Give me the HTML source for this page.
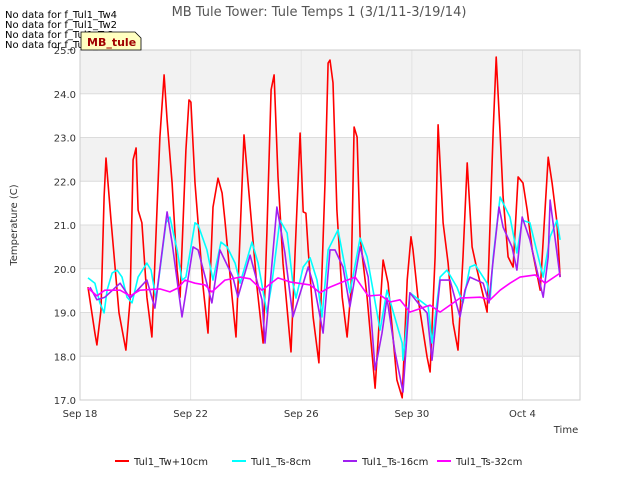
<!DOCTYPE html>
<html><head><meta charset="utf-8"><style>
body{margin:0;background:#fff;font-family:"Liberation Sans","DejaVu Sans",sans-serif}
svg text{font-family:"DejaVu Sans","Liberation Sans",sans-serif}
</style></head><body>
<svg id="chart" width="640" height="480" xmlns="http://www.w3.org/2000/svg">
<rect width="640" height="480" fill="#fff"/>
<g id="bands"></g><g id="grid"></g><g id="series"></g><g id="axes"></g>
<text x="319" y="16" font-size="13" fill="#555" text-anchor="middle">MB Tule Tower: Tule Temps 1 (3/1/11-3/19/14)</text>
<text transform="translate(17,225) rotate(-90)" font-size="10" fill="#333" text-anchor="middle">Temperature (C)</text>
<text x="566" y="433" font-size="10" fill="#333" text-anchor="middle">Time</text>
<g font-size="10" fill="#000">
<text x="5" y="18">No data for f_Tul1_Tw4</text>
<text x="5" y="28">No data for f_Tul1_Tw2</text>
<text x="5" y="38">No data for f_Tul1_Ts2</text>
<text x="5" y="48">No data for f_Tul1_Ts4</text>
</g>
<g>
<path d="M81,32 L135,32 L141,38 L141,50 L81,50 Z" fill="#ffffc0" stroke="#000" stroke-width="0.8"/>
<text x="87" y="46" font-size="11" fill="#a00000" font-weight="bold">MB_tule</text>
</g>
<g id="legend"></g>
</svg>
<script>
const redDays=[0.29,0.54,0.61,0.76,0.87,0.94,1.12,1.19,1.41,1.66,1.81,1.92,2.03,2.10,2.24,2.42,2.60,2.89,3.04,3.15,3.33,3.51,3.62,3.83,3.94,4.01,4.16,4.45,4.63,4.81,4.99,5.14,5.24,5.50,5.64,5.86,5.93,6.08,6.40,6.62,6.76,6.91,7.02,7.16,7.34,7.63,7.78,7.96,8.07,8.17,8.25,8.43,8.64,8.86,8.97,9.04,9.15,9.29,9.48,9.66,9.80,9.91,10.02,10.13,10.38,10.67,10.96,11.14,11.46,11.65,11.83,11.97,12.04,12.22,12.55,12.66,12.84,12.95,13.13,13.31,13.49,13.67,13.85,14.00,14.18,14.36,14.72,14.94,15.05,15.19,15.30,15.48,15.66,15.84,16.02,16.17,16.35,16.64,16.93,17.07,17.25,17.36];
const redVals=[19.58,18.53,18.26,19.06,21.64,22.53,21.11,20.61,18.99,18.14,19.29,22.49,22.76,21.34,21.05,19.35,18.44,23.01,24.43,23.40,21.96,19.97,19.35,22.71,23.86,23.81,21.96,19.58,18.53,21.41,22.07,21.73,21.11,19.35,18.44,21.96,23.06,21.96,19.58,18.30,20.82,24.09,24.43,22.10,20.13,18.10,20.43,23.10,21.30,21.27,20.43,18.90,17.85,21.96,24.70,24.77,24.25,21.34,19.35,18.44,19.51,23.24,23.01,20.73,19.35,17.27,20.20,19.67,17.46,17.05,19.74,20.73,20.43,19.35,17.98,17.64,20.27,23.29,21.05,20.13,18.76,18.14,20.27,22.42,20.50,19.97,19.01,23.17,24.84,23.10,21.64,20.27,20.04,22.10,21.96,21.34,20.43,19.51,22.55,21.96,21.05,19.81];
const cyanDays=[0.29,0.54,0.72,0.87,0.98,1.16,1.34,1.52,1.70,1.88,2.10,2.42,2.57,2.75,3.11,3.25,3.51,3.69,3.83,4.16,4.27,4.59,4.81,5.10,5.32,5.61,5.79,6.22,6.44,6.76,6.94,7.23,7.49,7.70,7.81,8.07,8.32,8.57,8.75,8.97,9.33,9.76,10.13,10.38,10.85,11.10,11.65,11.68,11.93,12.59,12.73,13.02,13.27,13.63,13.85,14.10,14.29,14.72,14.83,14.94,15.19,15.55,15.80,15.99,16.27,16.75,17.00,17.25,17.36];
const cyanVals=[19.79,19.67,19.22,18.99,19.51,19.90,19.97,19.81,19.35,19.22,19.81,20.13,19.97,19.29,21.05,21.18,20.43,19.74,19.81,21.05,21.00,20.43,19.74,20.61,20.50,20.13,19.67,20.61,20.13,18.99,19.67,21.11,20.82,19.67,19.33,20.04,20.25,19.74,18.90,20.43,20.89,19.45,20.70,20.27,18.60,19.51,18.30,17.91,19.45,19.13,18.30,19.81,19.97,19.58,19.22,20.04,20.09,19.67,19.29,20.27,21.64,21.18,20.36,21.11,21.05,19.81,20.73,21.11,20.66];
const purpleDays=[0.36,0.61,0.90,1.45,1.81,2.42,2.71,3.15,3.33,3.69,4.09,4.27,4.77,5.06,5.53,5.71,6.15,6.58,6.69,7.12,7.41,7.70,8.25,8.50,8.79,9.04,9.22,9.51,9.76,10.13,10.42,10.67,10.92,11.10,11.39,11.68,11.93,12.22,12.55,12.73,13.02,13.38,13.74,13.92,14.10,14.58,14.79,14.90,15.15,15.30,15.62,15.80,15.99,16.27,16.75,16.93,17.00,17.36];
const purpleVals=[19.58,19.29,19.35,19.67,19.33,19.74,19.10,21.30,20.59,18.90,20.50,20.43,19.22,20.43,19.81,19.35,20.31,19.29,18.30,21.41,20.36,18.90,20.04,19.51,18.53,20.43,20.43,20.04,19.13,20.50,19.81,17.69,18.53,19.33,18.10,17.18,19.45,19.22,18.99,17.91,19.74,19.74,18.90,19.51,19.81,19.67,19.22,19.97,21.41,20.95,20.50,19.97,21.18,20.66,19.35,20.27,21.57,19.81];
const magDays=[0.29,0.61,0.90,1.45,1.81,2.17,2.89,3.25,3.54,3.80,4.16,4.52,4.77,5.24,5.79,6.15,6.58,7.16,7.59,8.32,8.68,9.04,9.58,9.95,10.42,10.85,11.21,11.57,11.93,12.66,13.02,13.74,14.47,14.83,15.19,15.55,15.91,16.46,16.82,17.36];
const magVals=[19.56,19.38,19.51,19.51,19.38,19.51,19.54,19.47,19.56,19.74,19.67,19.63,19.47,19.74,19.81,19.77,19.51,19.79,19.70,19.63,19.45,19.58,19.72,19.81,19.38,19.40,19.24,19.29,19.01,19.17,19.01,19.33,19.35,19.29,19.51,19.67,19.81,19.86,19.67,19.90];
const yTicks=[17,18,19,20,21,22,23,24,25];
const xTickDays=[0,4,8,12,16];
const xTickLabels=["Sep 18","Sep 22","Sep 26","Sep 30","Oct 4"];
const seriesNames=["Tul1_Tw+10cm","Tul1_Ts-8cm","Tul1_Ts-16cm","Tul1_Ts-32cm"];

const L=80,R=580,T=50,B=400,NS="http://www.w3.org/2000/svg";
const xS=d=>L+d*(R-L)/18.08;
const yS=v=>B-(v-17)*(B-T)/8;
function mk(tag,attrs,parent){const e=document.createElementNS(NS,tag);for(const k in attrs)e.setAttribute(k,attrs[k]);parent.appendChild(e);return e;}
const bands=document.getElementById('bands'),grid=document.getElementById('grid'),series=document.getElementById('series'),axes=document.getElementById('axes'),legend=document.getElementById('legend');
let bg=mk('rect',{x:L,y:T,width:R-L,height:B-T,fill:'#fff'},bands);


for(let i=0;i<yTicks.length-1;i++){
  if(i%2===1){const b=mk('rect',{x:L,y:yS(yTicks[i+1]),width:R-L,height:yS(yTicks[i])-yS(yTicks[i+1]),fill:'#f2f2f2'},bands);
  
  }
}
yTicks.forEach(v=>{
  const g=mk('line',{x1:L,x2:R,y1:yS(v),y2:yS(v),stroke:'#dcdcdc','stroke-width':1},grid);
  
  
  const t=mk('text',{x:L-4,y:yS(v)+4,'font-size':10,fill:'#333','text-anchor':'end'},axes);
  t.textContent=v.toFixed(1);
  
  
});
xTickDays.forEach((d,i)=>{
  const g=mk('line',{x1:xS(d),x2:xS(d),y1:T,y2:B,stroke:'#e4e4e4','stroke-width':1},grid);
  
  
  const t=mk('text',{x:xS(d),y:B+17,'font-size':10,fill:'#333','text-anchor':'middle'},axes);
  t.textContent=xTickLabels[i];
  
  
});
const fr=mk('rect',{x:L,y:T,width:R-L,height:B-T,fill:'none',stroke:'#ccc','stroke-width':1},axes);


const colors=['#ff0000','#00ffff','#a020f0','#ff00ff'];
const data=[[redDays,redVals],[cyanDays,cyanVals],[purpleDays,purpleVals],[magDays,magVals]];
const snames=['series-tw-10cm','series-ts-8cm','series-ts-16cm','series-ts-32cm'];
data.forEach((s,k)=>{
  const pts=s[0].map((d,i)=>xS(d).toFixed(1)+','+yS(s[1][i]).toFixed(1)).join(' ');
  const p=mk('polyline',{points:pts,fill:'none',stroke:colors[k],'stroke-width':1.6,'stroke-linejoin':'round'},series);
  
  
});
const lx=[115,232,343,437];
seriesNames.forEach((n,k)=>{
  const l=mk('line',{x1:lx[k],x2:lx[k]+14,y1:461,y2:461,stroke:colors[k],'stroke-width':2},legend);
  
  
  const t=mk('text',{x:lx[k]+19,y:465,'font-size':10,fill:'#222'},legend);
  t.textContent=n;
  
  
});
</script>
</body></html>
